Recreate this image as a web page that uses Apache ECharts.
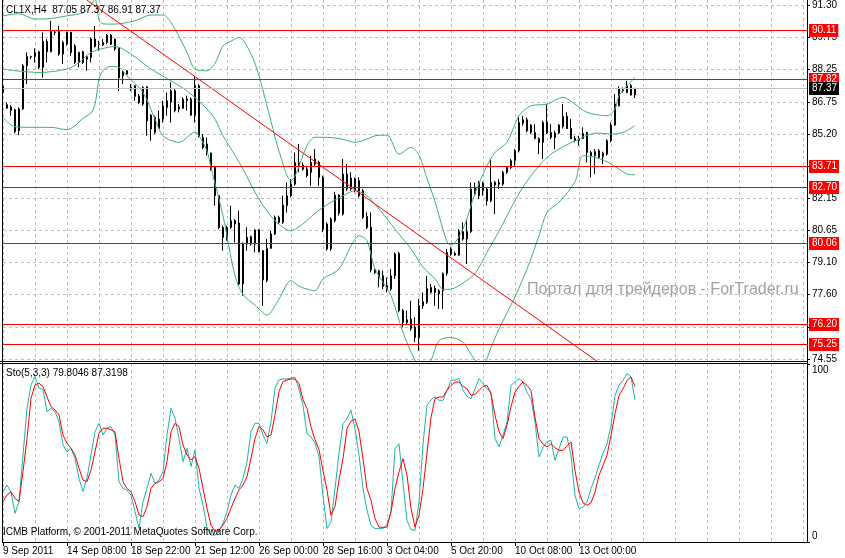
<!DOCTYPE html>
<html><head><meta charset="utf-8">
<script src="https://cdn.jsdelivr.net/npm/echarts@6/dist/echarts.min.js"></script>
<style>html,body{margin:0;padding:0;background:#fff}#c{width:845px;height:558px}</style>
</head><body><div id="c"></div>
<script>
// ---- data ----
const opens = [
87.46,86.59,86.48,86.35,85.36,86.39,88.44,88.86,88.88,89.10,
88.36,89.59,89.10,90.03,90.05,88.99,89.46,90.02,89.38,88.59,
89.10,88.75,88.83,89.70,89.46,89.42,89.54,89.89,89.70,89.26,
87.96,88.20,87.41,87.49,86.99,86.62,87.44,86.10,85.99,85.47,
85.91,86.46,86.73,87.25,86.39,86.42,86.78,86.86,86.10,87.49,
85.04,84.73,84.30,83.62,82.28,80.78,80.23,80.78,81.10,80.99,
78.10,79.99,79.99,80.66,80.66,79.68,78.26,79.79,80.47,81.26,
81.02,81.81,82.28,82.83,83.70,83.73,83.54,83.39,84.02,83.86,
83.15,80.94,79.76,81.10,81.46,81.41,83.31,82.60,82.52,82.99,
82.52,81.30,80.78,78.78,78.73,78.49,78.02,77.86,78.49,79.55,
76.84,76.41,76.44,76.05,75.57,77.07,77.23,77.70,77.89,77.78,
77.78,78.60,79.76,79.55,79.47,80.23,80.58,80.58,82.36,82.91,
82.52,82.60,82.04,82.91,82.83,82.83,83.39,83.62,83.94,84.41,
85.72,85.88,85.63,85.28,84.99,84.81,85.75,85.28,85.04,85.25,
85.56,86.04,85.47,84.99,84.89,84.99,85.28,84.33,84.18,84.41,
84.14,84.25,84.89,85.63,86.54,87.36,87.17,87.49,87.05];
const closes = [
87.17,86.43,86.32,85.31,86.39,88.44,88.88,88.88,89.07,88.36,
89.59,89.10,90.05,90.02,88.99,89.54,90.02,89.07,88.59,89.07,
88.59,88.86,89.70,89.35,89.45,89.54,89.89,89.46,89.23,87.88,
88.17,88.04,87.33,86.99,86.70,87.41,85.83,85.44,85.28,85.91,
86.54,86.78,87.25,86.31,86.50,86.86,86.86,86.10,87.49,85.12,
84.57,84.33,83.54,82.28,80.78,80.31,80.78,81.10,80.94,78.10,
79.99,80.31,80.34,79.99,79.63,78.30,79.79,80.47,81.26,81.02,
81.84,82.28,82.83,83.86,83.86,83.54,83.23,83.86,83.78,83.15,
80.70,79.76,81.18,82.31,82.31,83.31,82.60,83.12,83.10,82.28,
81.26,80.78,78.78,78.65,78.41,77.99,77.86,78.49,79.52,76.84,
76.28,76.28,76.00,75.57,77.07,77.26,77.89,77.94,77.70,77.63,
78.60,79.60,79.52,79.47,80.58,80.58,80.23,82.60,82.68,82.28,
82.88,82.04,82.91,82.79,82.91,83.39,83.62,83.94,84.41,85.75,
85.88,85.36,85.28,84.99,84.81,85.75,85.28,85.04,85.25,85.63,
86.04,85.47,84.99,84.89,84.99,85.23,84.33,84.18,84.37,84.10,
84.30,84.89,85.63,86.62,87.36,87.25,87.49,87.05,87.37];
const lows = [
87.14,86.39,86.07,85.23,85.15,86.35,87.57,88.75,88.59,88.28,
87.88,88.59,89.07,89.89,88.91,88.52,89.38,88.91,88.52,88.36,
88.52,88.20,88.59,89.30,89.15,89.38,89.46,89.42,89.15,87.25,
87.57,88.01,87.25,86.78,86.62,86.54,85.12,84.89,85.20,85.44,
85.75,86.07,85.75,86.23,86.23,86.39,86.31,86.07,85.75,85.04,
84.49,84.18,83.47,81.81,80.70,79.68,80.15,80.70,80.07,78.02,
77.55,79.68,79.91,79.60,79.60,77.07,78.18,79.76,80.42,80.94,
80.94,81.49,82.20,82.75,83.39,83.47,83.15,82.75,83.70,82.75,
80.55,79.68,79.68,81.02,81.34,81.34,82.52,82.52,82.44,82.20,
81.18,80.70,78.65,78.57,77.94,77.86,77.70,77.78,78.34,76.76,
76.05,76.21,75.89,75.34,74.94,76.92,77.15,77.65,77.07,76.92,
76.92,78.49,79.44,79.44,79.44,80.15,79.05,80.52,82.28,82.12,
82.28,81.81,81.97,81.41,82.60,82.75,83.31,83.54,83.70,84.33,
85.60,85.28,85.20,84.96,84.25,84.02,85.20,84.96,84.49,85.20,
85.47,85.44,84.96,84.81,84.65,84.96,83.86,83.15,83.31,84.02,
83.78,84.18,84.81,85.60,86.51,87.17,87.14,87.02,86.91];
const highs = [
87.52,86.70,86.57,86.39,86.46,88.52,89.07,88.91,89.26,89.15,
90.02,89.70,90.57,90.09,90.33,89.62,90.05,90.03,89.46,89.10,
89.15,88.91,89.78,90.33,89.62,89.70,89.94,89.94,89.73,89.30,
88.20,88.23,87.57,87.52,87.10,87.46,87.46,86.15,86.07,86.31,
86.78,87.17,87.65,87.33,86.62,86.94,87.02,86.94,87.96,87.57,
85.20,85.04,84.33,83.70,82.30,80.86,80.86,81.81,81.18,81.57,
80.07,80.78,80.39,80.70,80.70,79.70,80.23,80.62,81.34,81.34,
82.28,82.91,83.07,84.33,84.73,83.86,83.70,84.18,84.49,83.94,
83.23,81.02,81.26,82.47,82.36,84.02,83.78,83.39,83.15,83.15,
82.60,81.49,81.49,78.81,78.78,78.73,78.41,78.81,79.60,79.63,
76.92,76.84,77.31,76.52,77.39,77.70,78.49,78.10,78.02,77.86,
78.65,79.76,79.84,79.63,80.70,81.02,81.18,82.91,82.91,82.99,
82.94,82.68,84.02,82.99,83.07,83.47,83.70,84.02,84.49,86.07,
86.07,85.99,85.67,85.67,85.04,85.83,86.62,85.67,85.36,85.67,
86.62,86.23,85.91,85.12,85.12,85.52,85.31,84.41,84.49,84.49,
84.37,84.96,85.75,87.10,87.46,87.41,87.73,87.57,87.37];

// Bollinger bands: [bar index, price] read at points along each curve
const bbUpper = [[0,90.80],[4,90.90],[8,90.65],[11,90.66],[16,90.80],[20,90.95],[22,91.30],[23,91.60],[24,90.60],[25,90.42],[28,90.41],[33,90.57],[37,90.84],[40,90.84],[43,90.17],[46,89.07],[48,88.28],[51,88.20],[53,88.55],[55,89.38],[57,89.60],[59,89.78],[62,89.00],[64,87.96],[67,85.80],[69,84.40],[72,83.00],[73,83.20],[76,84.65],[78,85.05],[82,85.04],[85,84.95],[88,84.81],[91,84.96],[93,85.12],[96,85.15],[99,84.25],[102,84.57],[104,84.20],[106,83.10],[108,82.00],[111,80.10],[112,79.95],[115,80.70],[118,82.40],[121,83.70],[123,84.33],[126,84.81],[129,86.07],[132,86.54],[136,86.62],[140,86.94],[143,86.62],[146,86.23],[151,86.07],[153,86.39],[154,87.02],[156,87.49],[158,87.88]];
const bbMiddle = [[0,88.28],[3,88.20],[9,88.12],[16,88.28],[19,88.59],[22,89.07],[26,89.30],[28,89.35],[32,88.99],[37,88.28],[42,87.72],[46,87.25],[51,86.39],[53,85.91],[55,85.12],[58,84.20],[60,83.54],[64,82.12],[68,81.10],[72,80.62],[75,80.95],[78,81.45],[82,81.97],[85,82.28],[88,82.52],[91,82.28],[94,81.65],[98,80.70],[102,79.76],[105,78.90],[108,78.35],[110,77.85],[112,77.86],[115,78.15],[118,78.60],[121,79.60],[124,80.60],[127,81.70],[130,82.70],[134,83.70],[137,84.25],[141,84.70],[144,84.96],[146,85.15],[149,85.25],[152,85.20],[155,85.28],[158,85.60]];
const bbLower = [[0,85.99],[3,85.55],[8,85.52],[12,85.52],[16,85.41],[18,85.60],[20,85.95],[22,86.20],[23,86.60],[24,87.80],[25,88.20],[27,88.41],[29,88.36],[31,87.96],[35,87.17],[38,85.91],[40,85.12],[44,84.81],[47,85.20],[48,85.30],[49,85.12],[51,84.40],[52,83.62],[55,81.33],[58,78.49],[60,77.60],[63,77.10],[66,76.63],[69,77.39],[72,78.26],[74,78.00],[76,77.86],[78,77.78],[80,78.34],[84,78.81],[87,79.91],[89,80.39],[91,80.15],[93,78.81],[97,77.55],[100,75.81],[103,74.50],[105,74.10],[107,74.50],[109,75.42],[112,75.57],[115,75.34],[118,74.50],[120,74.30],[122,75.10],[124,75.97],[128,77.50],[131,78.81],[134,80.39],[136,81.49],[139,81.97],[143,82.95],[145,84.18],[148,84.10],[151,83.89],[154,83.54],[156,83.31],[158,83.27]];

// Stochastic (5,3,3)
const stochMain = [
28.3,32.0,28.0,16.1,22.7,48.9,75.1,88.2,92.9,86.4,
85.8,73.2,75.1,73.2,67.6,54.5,50.7,52.6,47.0,35.7,
28.3,36.0,48.9,61.9,66.7,60.1,63.9,64.8,60.1,33.9,
30.1,29.2,26.4,17.1,7.7,22.7,30.1,38.6,32.9,34.8,
39.6,60.1,75.1,69.5,58.2,45.1,52.6,42.4,51.7,30.1,
20.8,7.7,3.9,3.9,5.8,10.5,17.1,26.4,32.0,30.1,
35.7,45.1,61.9,66.7,66.7,60.1,55.4,67.6,86.4,91.0,
91.6,91.6,92.0,92.5,86.0,76.8,60.8,59.0,55.5,48.0,
26.0,7.5,11.2,30.0,50.0,66.4,69.3,74.0,63.7,48.7,
30.0,18.0,9.3,7.5,7.5,7.5,10.0,17.0,52.4,55.2,
33.0,12.0,7.0,6.5,22.5,55.0,76.8,80.0,81.5,79.6,
79.6,85.0,90.8,91.0,91.8,85.2,82.0,80.5,86.0,91.8,
89.0,86.0,84.2,58.1,53.4,60.0,67.4,88.0,90.0,91.8,
89.9,84.0,80.5,67.4,47.8,53.0,56.5,57.1,45.9,52.4,
58.9,59.0,48.7,26.2,18.8,19.5,22.5,30.0,36.0,43.1,
50.0,55.0,65.6,82.4,88.0,90.8,94.6,92.7,79.8];
const stochSignal = [
22.7,26.4,28.3,24.5,22.7,39.6,58.2,80.7,88.2,89.2,
87.3,81.6,76.0,74.2,71.4,60.1,55.4,52.6,48.9,41.4,
34.8,33.9,40.5,50.7,61.1,63.9,63.9,63.0,61.9,47.0,
33.9,30.1,28.3,22.7,15.2,14.2,19.9,30.1,32.9,33.9,
35.7,45.1,61.9,66.7,64.8,54.5,48.9,46.1,47.9,41.4,
30.1,19.0,9.5,5.8,6.7,9.5,13.3,19.0,24.5,29.2,
32.0,36.7,47.0,58.2,64.8,63.0,59.1,60.1,71.4,84.5,
90.1,91.0,91.6,91.6,89.0,80.0,74.9,64.6,57.5,52.0,
40.0,29.0,15.0,20.0,35.0,46.8,63.7,68.0,69.0,62.0,
46.8,30.0,23.4,13.2,8.4,8.2,8.4,16.9,30.0,39.4,
46.8,37.5,18.8,8.4,15.0,30.0,50.0,70.0,80.5,81.4,
81.5,85.2,88.0,89.9,89.9,87.5,86.0,82.4,83.0,85.2,
87.5,88.0,83.3,71.2,62.0,58.1,65.6,76.0,84.2,87.5,
89.9,88.0,85.2,70.0,58.0,55.0,53.4,55.2,53.0,51.5,
51.5,54.0,56.2,40.0,28.0,22.0,20.6,22.0,28.0,37.5,
43.0,48.7,60.0,72.0,82.4,86.0,90.8,92.7,87.3];

const levels = [90.11, 87.82, 83.71, 82.70, 80.06, 76.20, 75.25];
const bidPrice = 87.37;
const trendLine = [[21, 91.54], [149, 74.38]];
const priceTickLabels = ["74.55","76.05","77.60","79.10","80.65","82.15","83.70","85.20","86.75","88.25","89.75","91.30"];
const xTickLabels = ["9 Sep 2011","14 Sep 08:00","18 Sep 22:00","21 Sep 12:00","26 Sep 00:00","28 Sep 16:00","3 Oct 04:00","5 Oct 20:00","10 Oct 08:00","13 Oct 00:00"];
const stochTickValues = [0, 100];
const symbolName = "CL1X,H4";
const stochTitle = "Sto(5,3,3) 79.8046 87.3198";
const copyright = "ICMB Platform, \u00a9 2001-2011 MetaQuotes Software Corp.";
const watermark = "Портал для трейдеров - ForTrader.ru";

// ---- chart ----
const FONT = "'Liberation Sans', Arial, sans-serif";
const slots = 202;
const cats = Array.from({length: slots}, (_, i) => String(i));
const candles = opens.map((o, i) => [o, closes[i], lows[i], highs[i]]);
const tickBase = parseFloat(priceTickLabels[0]);
const tickTop = parseFloat(priceTickLabels[priceTickLabels.length - 1]);
const tickStep = (tickTop - tickBase) / (priceTickLabels.length - 1);
const tickValues = priceTickLabels.map((_, k) => tickBase + k * tickStep);
const last = opens.length - 1;
const fmt = v => v.toFixed(2);
const titleText = symbolName + "  " + fmt(opens[last]) + " " + fmt(highs[last]) + " " + fmt(lows[last]) + " " + fmt(closes[last]);
const dash = {color: '#c0c0c0', width: 1, type: [3, 3]};
const txt = {fontFamily: FONT, fontSize: 10, color: '#000', fontWeight: 'normal'};

// horizontal price lines with a price tag at the right, snapped to whole pixels
const hLines = levels.map(v => [0, v, '#ff0000', '#ff0000'])
  .concat([[0, bidPrice, '#c0c0c0', '#000000']]);
function renderHLine(params, api) {
  const cs = params.coordSys;
  const item = hLines[params.dataIndex];
  const pt = api.coord([0, item[1]]);
  const y = Math.round(pt[1]) + 0.5;
  const xr = cs.x + cs.width;
  return {type: 'group', children: [
    {type: 'line', shape: {x1: cs.x, y1: y, x2: xr, y2: y}, style: {stroke: item[2], lineWidth: 1}},
    {type: 'text', x: xr + 2, y: y, z2: 10,
     style: {text: fmt(item[1]), fill: '#fff', backgroundColor: item[3], padding: [2, 2, 1, 3],
             font: "10px 'Liberation Sans', Arial, sans-serif", verticalAlign: 'middle', align: 'left'}}
  ]};
}

const chart = echarts.init(document.getElementById('c'), null, {renderer: 'canvas'});
chart.setOption({
  animation: false,
  backgroundColor: '#fff',
  textStyle: {fontFamily: FONT},
  title: [
    {text: titleText, left: 6, top: 5, padding: 0, textStyle: txt},
    {text: stochTitle, left: 6, top: 368, padding: 0, textStyle: txt},
    {text: copyright, left: 3, top: 527, padding: 0, textStyle: txt},
    {text: watermark, left: 527, top: 282, padding: 0, textStyle: {fontFamily: FONT, fontSize: 16, color: '#aa9e9e', fontWeight: 'normal'}}
  ],
  grid: [
    {left: 3, right: 38, top: 0, height: 361, containLabel: false, outerBoundsMode: 'none'},
    {left: 3, right: 38, top: 364, height: 178, containLabel: false, outerBoundsMode: 'none'}
  ],
  xAxis: [
    {gridIndex: 0, type: 'category', data: cats, boundaryGap: false,
     axisLine: {show: false}, axisTick: {show: false}, axisLabel: {show: false},
     splitLine: {show: true, interval: i => i % 8 === 0, lineStyle: dash}},
    {gridIndex: 1, type: 'category', data: cats, boundaryGap: false,
     axisLine: {show: true, lineStyle: {color: '#000', width: 1}},
     axisTick: {show: true, length: 4, interval: i => i % 16 === 0 && i / 16 < xTickLabels.length, lineStyle: {color: '#000'}},
     axisLabel: Object.assign({show: true, margin: 4, align: 'left', hideOverlap: false,
       interval: i => i % 16 === 0 && i / 16 < xTickLabels.length,
       formatter: (v, i) => xTickLabels[i / 16] || ''}, txt),
     splitLine: {show: true, interval: i => i % 8 === 0, lineStyle: dash}}
  ],
  yAxis: [
    {gridIndex: 0, type: 'value', position: 'right', min: 74.455, max: 91.551,
     axisLine: {show: true, lineStyle: {color: '#000', width: 1}},
     axisTick: {show: true, length: 3, customValues: tickValues, lineStyle: {color: '#000'}},
     axisLabel: Object.assign({show: true, margin: 5, hideOverlap: false, customValues: tickValues,
       formatter: v => priceTickLabels[Math.round((v - tickBase) / tickStep)]}, txt),
     splitLine: {show: true, lineStyle: dash}},
    {gridIndex: 1, type: 'value', position: 'right', min: 0, max: 100,
     axisLine: {show: true, lineStyle: {color: '#000', width: 1}},
     axisTick: {show: true, length: 3, customValues: stochTickValues, lineStyle: {color: '#000'}},
     axisLabel: {show: true, margin: 5, hideOverlap: false, customValues: stochTickValues,
       formatter: v => v >= 50 ? '{t|' + v + '}' : '{b|' + v + '}',
       rich: {t: Object.assign({padding: [13, 0, 0, 0]}, txt), b: Object.assign({padding: [0, 0, 11, 0]}, txt)}},
     splitLine: {show: false}}
  ],
  series: [
    {type: 'custom', name: 'priceLines', xAxisIndex: 0, yAxisIndex: 0, z: 6, clip: false, silent: true,
     data: hLines.map(h => [h[0], h[1]]), renderItem: renderHLine},
    {type: 'candlestick', xAxisIndex: 0, yAxisIndex: 0, data: candles, barWidth: 2, z: 2,
     itemStyle: {color: '#ffffff', color0: '#000000', borderColor: '#000000', borderColor0: '#000000', borderWidth: 1},
     emphasis: {disabled: true}},
    {type: 'line', name: 'bbUpper', xAxisIndex: 0, yAxisIndex: 0, data: bbUpper, smooth: 0.3, symbol: 'none', z: 3,
     lineStyle: {color: '#3cb371', width: 1}, emphasis: {disabled: true}},
    {type: 'line', name: 'bbMiddle', xAxisIndex: 0, yAxisIndex: 0, data: bbMiddle, smooth: 0.3, symbol: 'none', z: 3,
     lineStyle: {color: '#3cb371', width: 1}, emphasis: {disabled: true}},
    {type: 'line', name: 'bbLower', xAxisIndex: 0, yAxisIndex: 0, data: bbLower, smooth: 0.3, symbol: 'none', z: 3,
     lineStyle: {color: '#3cb371', width: 1}, emphasis: {disabled: true}},
    {type: 'line', name: 'trend', xAxisIndex: 0, yAxisIndex: 0, data: trendLine, symbol: 'none', z: 5,
     lineStyle: {color: '#ff0000', width: 1}, emphasis: {disabled: true}},
    {type: 'line', name: 'main', xAxisIndex: 1, yAxisIndex: 1, data: stochMain.map((v, i) => [i, v]), symbol: 'none', z: 3,
     lineStyle: {color: '#20b2aa', width: 1}, emphasis: {disabled: true}},
    {type: 'line', name: 'signal', xAxisIndex: 1, yAxisIndex: 1, data: stochSignal.map((v, i) => [i, v]), symbol: 'none', z: 4,
     lineStyle: {color: '#ff0000', width: 1}, emphasis: {disabled: true}}
  ],
  graphic: [
    {type: 'line', silent: true, z: 10, shape: {x1: 0, y1: 361.5, x2: 807.5, y2: 361.5}, style: {stroke: '#000', lineWidth: 1}},
    {type: 'line', silent: true, z: 10, shape: {x1: 0, y1: 363.5, x2: 807.5, y2: 363.5}, style: {stroke: '#000', lineWidth: 1}},
    {type: 'line', silent: true, z: 10, shape: {x1: 807.5, y1: 0, x2: 807.5, y2: 543}, style: {stroke: '#000', lineWidth: 1}},
    {type: 'line', silent: true, z: 10, shape: {x1: 2.5, y1: 0, x2: 2.5, y2: 543}, style: {stroke: '#000', lineWidth: 1}}
  ]
});
</script>
</body></html>
